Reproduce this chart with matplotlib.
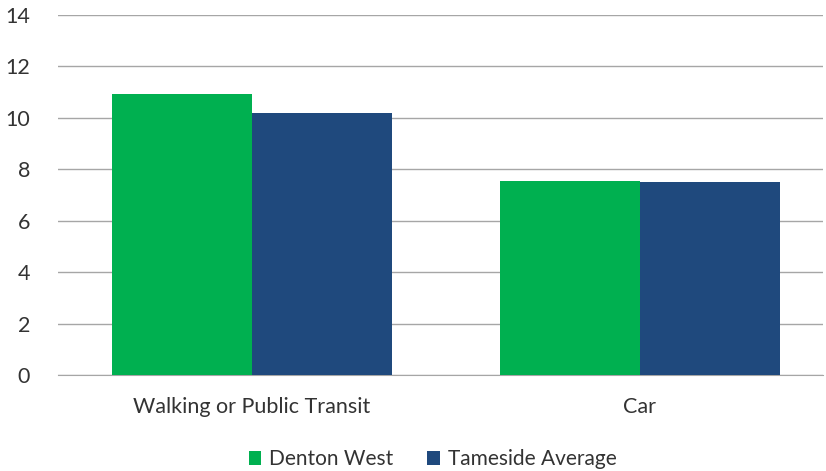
import matplotlib.pyplot as plt
import numpy as np

categories = ["Walking or Public Transit", "Car"]
series_names = ["Denton West", "Tameside Average"]
denton_west = [10.93, 7.55]
tameside_avg = [10.2, 7.5]
colors = ["#00B050", "#1F497D"]

plt.rcParams["font.family"] = ["Lato", "DejaVu Sans"]
text_color = "#333333"

fig = plt.figure(figsize=(8.26, 4.71), dpi=100)
ax = fig.add_axes([0.070, 0.204, 0.926, 0.764])

x = np.arange(len(categories))
w = 0.361
ax.bar(x - w / 2, denton_west, w, color=colors[0], label=series_names[0], zorder=3)
ax.bar(x + w / 2, tameside_avg, w, color=colors[1], label=series_names[1], zorder=3)

ax.set_xlim(-0.5, 1.472)
ax.set_ylim(0, 14)
ax.set_yticks(range(0, 15, 2))
ax.set_xticks(x)
ax.set_xticklabels(categories)
ax.yaxis.grid(True, color="#A6A6A6", linewidth=1, zorder=0)
for s in ["top", "right", "left"]:
    ax.spines[s].set_visible(False)
ax.spines["bottom"].set_color("#A6A6A6")
ax.tick_params(axis="both", length=0, labelsize=15.5, colors=text_color)
ax.tick_params(axis="y", pad=20)
ax.tick_params(axis="x", pad=16)

ax.legend(loc="upper center", bbox_to_anchor=(0.49, -0.155), ncol=2, frameon=False,
          fontsize=15, handlelength=0.6, handleheight=0.6, handletextpad=0.4,
          columnspacing=1.6, labelcolor=text_color)

fig.savefig("out.png", dpi=100)
